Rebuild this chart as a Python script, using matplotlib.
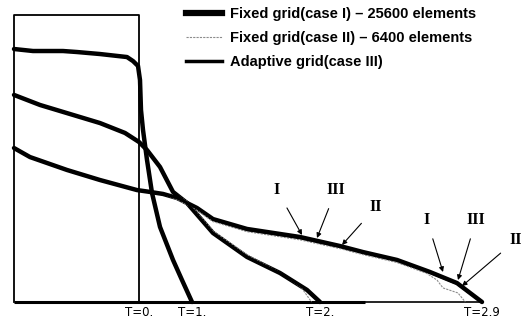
import matplotlib
matplotlib.use("Agg")
import matplotlib.pyplot as plt
from matplotlib.lines import Line2D

# ------ data (x in column widths, y in units of half column height) ----------
# initial column (T=0)
box_x = [0.0, 0.0, 1.0, 1.0]
box_y = [0.0, 2.0, 2.0, 0.0]
floor_end = 3.744          # furthest front position
floor_thick_end = 2.81

# case I - fixed grid 25600 elements
t1_x = [0, 0.152, 0.392, 0.504, 0.688, 0.904, 0.952, 0.992, 1.008, 1.016, 1.032,
        1.064, 1.104, 1.168, 1.272, 1.344, 1.424]
t1_y = [1.763, 1.749, 1.749, 1.742, 1.728, 1.707, 1.679, 1.645, 1.547, 1.338, 1.199,
        0.990, 0.760, 0.523, 0.293, 0.153, 0.0]

t2_x = [0, 0.208, 0.448, 0.688, 0.888, 1.0, 1.064, 1.168, 1.272, 1.384, 1.592,
        1.864, 2.128, 2.344, 2.448]
t2_y = [1.443, 1.373, 1.310, 1.247, 1.178, 1.115, 1.059, 0.941, 0.767, 0.690, 0.481,
        0.314, 0.202, 0.084, 0.0]

t29_x = [0, 0.128, 0.424, 0.688, 0.984, 1.088, 1.192, 1.304, 1.464, 1.592, 1.864,
         2.288, 2.608, 2.792, 3.064, 3.328, 3.544, 3.744]
t29_y = [1.073, 1.010, 0.920, 0.850, 0.780, 0.767, 0.753, 0.725, 0.655, 0.578, 0.509,
         0.453, 0.390, 0.348, 0.293, 0.209, 0.132, 0.0]

# case II - fixed grid 6400 elements
t2_x_II = [0, 0.208, 0.448, 0.688, 0.888, 1.0, 1.064, 1.168, 1.272, 1.384, 1.592,
           1.864, 2.128, 2.30, 2.38]
t2_y_II = [1.443, 1.373, 1.310, 1.247, 1.178, 1.115, 1.059, 0.941, 0.767, 0.700, 0.495,
           0.330, 0.205, 0.100, 0.0]
t29_x_II = [0, 0.128, 0.424, 0.688, 0.984, 1.088, 1.192, 1.304, 1.464, 1.592, 1.864,
            2.288, 2.608, 2.792, 3.064, 3.300, 3.384, 3.432, 3.552, 3.610]
t29_y_II = [1.073, 1.010, 0.920, 0.850, 0.780, 0.767, 0.753, 0.715, 0.640, 0.560, 0.490,
            0.433, 0.372, 0.330, 0.275, 0.200, 0.153, 0.098, 0.063, 0.0]

# case III - adaptive grid
t29_x_III = [0, 0.128, 0.424, 0.688, 0.984, 1.088, 1.192, 1.304, 1.464, 1.592, 1.864,
             2.288, 2.608, 2.792, 3.064, 3.328, 3.544, 3.744]
t29_y_III = [1.073, 1.010, 0.920, 0.850, 0.780, 0.767, 0.753, 0.725, 0.655, 0.578, 0.503,
             0.446, 0.385, 0.344, 0.290, 0.205, 0.128, 0.0]

time_labels = ["T=0.", "T=1.", "T=2.", "T=2.9"]
time_pos = [1.0, t1_x[-1], t2_x[-1], t29_x[-1]]

legend_labels = ["Fixed grid(case I) \u2013 25600 elements",
                 "Fixed grid(case II) \u2013 6400 elements",
                 "Adaptive grid(case III)"]

# ------ plotting --------------------------------------------------------------
fig = plt.figure(figsize=(5.28, 3.21), dpi=100)
ax = fig.add_axes([0, 0, 1, 1])
ax.set_xlim(-0.112, 4.112)
ax.set_ylim(-0.1324, 2.1045)
ax.axis("off")

ax.plot(box_x, box_y, c="k", lw=1.3)
ax.plot([0, floor_thick_end], [0, 0], c="k", lw=2.2, solid_capstyle="butt")
ax.plot([floor_thick_end, floor_end], [0, 0], c="k", lw=1.2)

I_style = dict(c="k", lw=3.2, solid_capstyle="round", solid_joinstyle="round")
II_style = dict(c="0.55", lw=0.8, ls=(0, (2, 1)))
III_style = dict(c="k", lw=1.8, solid_joinstyle="round")

for xs, ys in [(t1_x, t1_y), (t2_x, t2_y), (t29_x, t29_y)]:
    ax.plot(xs, ys, **I_style)
for xs, ys in [(t1_x, t1_y), (t2_x_II, t2_y_II), (t29_x_II, t29_y_II)]:
    ax.plot(xs, ys, **II_style)
for xs, ys in [(t1_x, t1_y), (t2_x, t2_y), (t29_x_III, t29_y_III)]:
    ax.plot(xs, ys, **III_style)

for lab, xp in zip(time_labels, time_pos):
    ax.text(xp, -0.098, lab, ha="center", va="baseline", fontsize=8.5,
            family="DejaVu Sans")

# annotations for the fronts
arrow = dict(arrowstyle="-|>", lw=0.8, color="k", mutation_scale=7, shrinkA=6, shrinkB=0)
ann_font = dict(fontsize=11.5, fontweight="bold", family="Liberation Serif")
notes = [("I", (2.104, 0.78), (2.304, 0.467)),
         ("III", (2.576, 0.78), (2.424, 0.446)),
         ("II", (2.896, 0.662), (2.624, 0.397)),
         ("I", (3.304, 0.571), (3.432, 0.209)),
         ("III", (3.696, 0.571), (3.552, 0.153)),
         ("II", (4.016, 0.432), (3.584, 0.111))]
for txt, xytext, xy in notes:
    ax.annotate(txt, xy=xy, xytext=xytext, ha="center", va="center",
                arrowprops=arrow, **ann_font)

handles = [Line2D([], [], c="k", lw=4.5),
           Line2D([], [], c="0.55", lw=0.8, ls=(0, (2, 1))),
           Line2D([], [], c="k", lw=2.5)]
ax.legend(handles, legend_labels, loc="upper left", bbox_to_anchor=(0.352, 0.978),
          frameon=False, handlelength=2.5, handletextpad=0.55, labelspacing=0.68,
          borderpad=0, borderaxespad=0,
          prop={"family": "Liberation Sans", "size": 10.5, "weight": "bold"})

fig.savefig("out.png", dpi=100)
